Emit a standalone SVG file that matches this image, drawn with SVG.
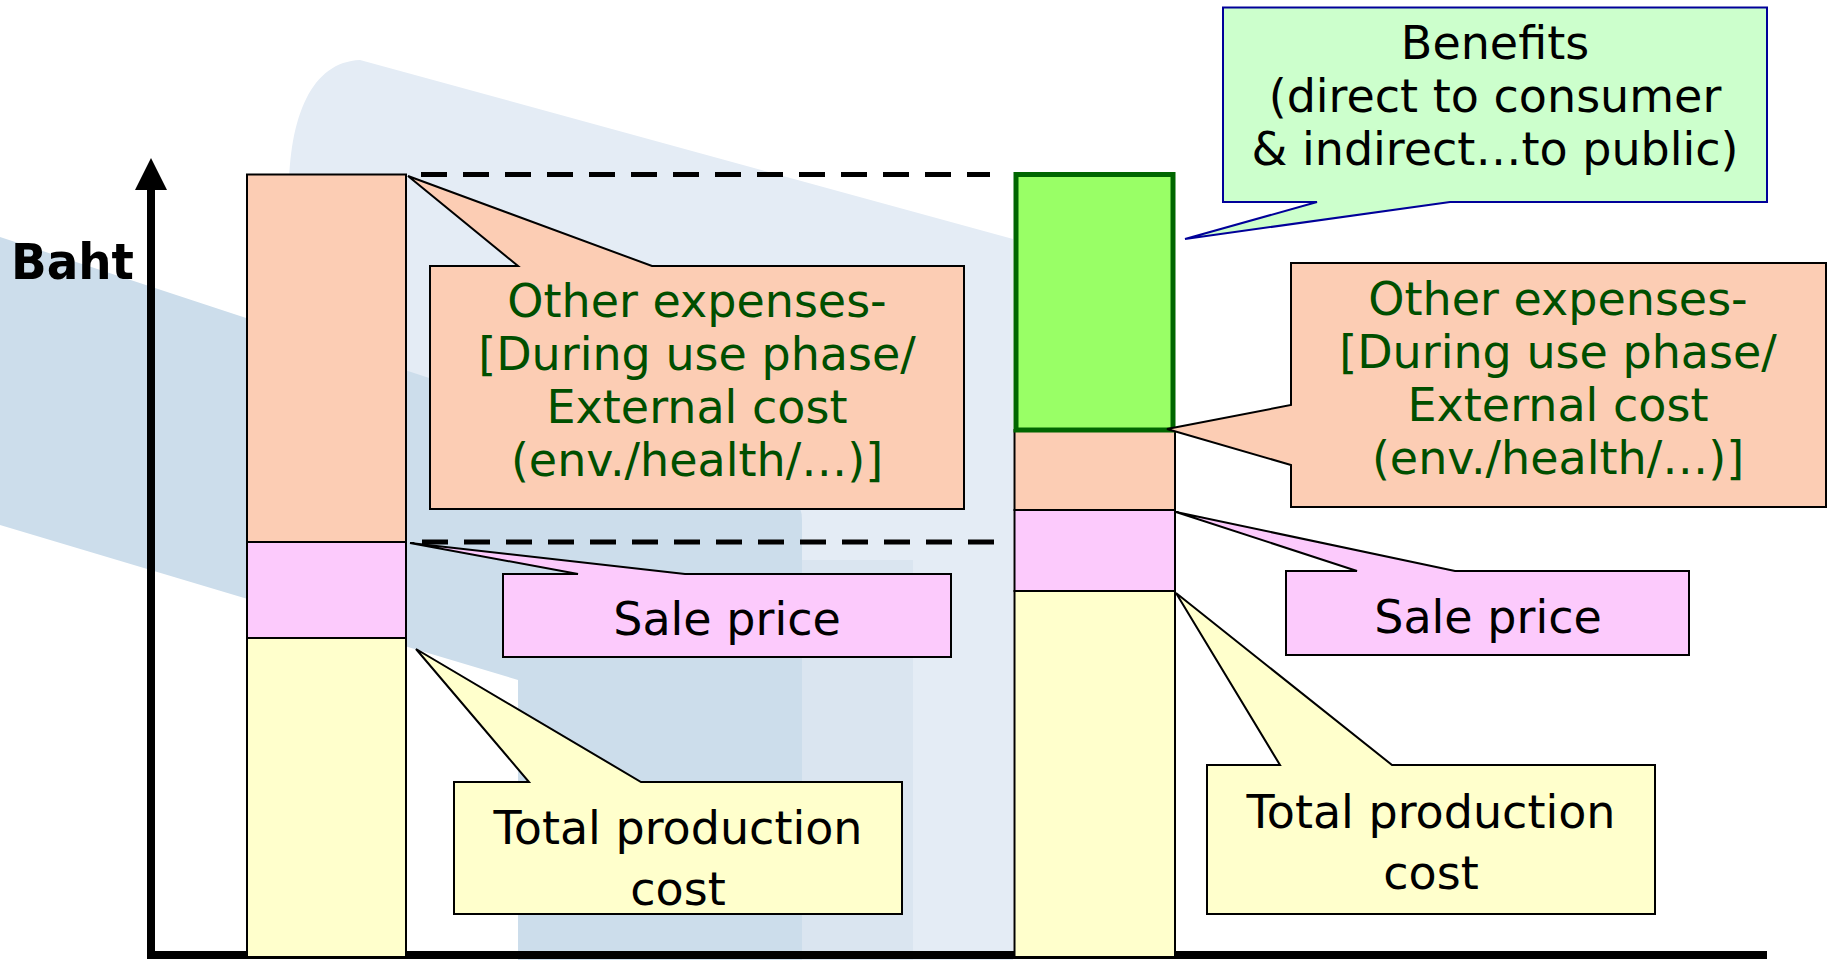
<svg xmlns="http://www.w3.org/2000/svg" width="1831" height="960" viewBox="0 0 1831 960">
  <defs>
    <style>
      .peach { fill: #FCCDB4; stroke: #000; stroke-width: 2; }
      .pink { fill: #FCCAFC; stroke: #000; stroke-width: 2; }
      .yellow { fill: #FFFFCC; stroke: #000; stroke-width: 2; }
      .green { fill: #99FF66; stroke: #006600; stroke-width: 5; }
      .benefit { fill: #CCFFCC; stroke: #000099; stroke-width: 2; }
      .t { font-family: "DejaVu Sans", "Liberation Sans", sans-serif; font-size: 46px; text-anchor: middle; fill: #000; }
      .tg { font-family: "DejaVu Sans", "Liberation Sans", sans-serif; font-size: 46px; text-anchor: middle; fill: #004F00; }
      .dash { stroke: #000; stroke-width: 5; stroke-dasharray: 26 16; fill: none; }
    </style>
  </defs>
  <rect width="1831" height="960" fill="#FFFFFF"/>

  <!-- background watermark -->
  <g id="watermark">
    <path d="M289,205 C287,120 310,62 360,60 L1013,239 L1013,960 L800,960 L800,490 L289,340 Z" fill="#E4ECF5"/>
    <path d="M800,560 L913,560 L913,960 L800,960 Z" fill="#DAE5F0"/>
    <path d="M0,237 L785,495 Q802,500 802,520 L802,960 L518,960 L518,680 L0,525 Z" fill="#CCDDEB"/>
  </g>

  <!-- axes -->
  <g id="axes">
    <line x1="151" y1="185" x2="151" y2="959" stroke="#000" stroke-width="8"/>
    <polygon points="151,158 135,190 167,190" fill="#000"/>
    <line x1="147" y1="955" x2="1767" y2="955" stroke="#000" stroke-width="8"/>
    <text x="11" y="279" font-family="DejaVu Sans, Liberation Sans, sans-serif" font-weight="bold" font-size="50" textLength="123" lengthAdjust="spacingAndGlyphs" fill="#000">Baht</text>
  </g>

  <!-- connectors: dashed reference lines -->
  <g id="connectors">
    <line class="dash" x1="421" y1="174.5" x2="990" y2="174.5"/>
    <line class="dash" x1="422" y1="542" x2="994" y2="542"/>
  </g>

  <!-- left bar -->
  <g id="bar-left">
    <rect class="peach" x="247" y="174.5" width="159" height="367.5"/>
    <rect class="pink" x="247" y="542" width="159" height="96"/>
    <rect class="yellow" x="247" y="638" width="159" height="319"/>
  </g>

  <!-- right bar -->
  <g id="bar-right">
    <rect class="peach" x="1014.5" y="430" width="160.5" height="80"/>
    <rect class="pink" x="1014.5" y="510" width="160.5" height="81"/>
    <rect class="yellow" x="1014.5" y="591" width="160.5" height="366"/>
    <rect class="green" x="1016" y="174.5" width="157" height="255.5"/>
  </g>

  <!-- left callouts -->
  <g id="callout-other-left">
    <path class="peach" d="M430,266 L518,266 L408,176 L652,266 L964,266 L964,509 L430,509 Z"/>
    <text class="tg" x="697" y="317">Other expenses-</text>
    <text class="tg" x="697" y="370">[During use phase/</text>
    <text class="tg" x="697" y="423">External cost</text>
    <text class="tg" x="697" y="476">(env./health/…)]</text>
  </g>
  <g id="callout-sale-left">
    <path class="pink" d="M503,574 L578,574 L410,543 L685,574 L951,574 L951,657 L503,657 Z"/>
    <text class="t" x="727" y="635">Sale price</text>
  </g>
  <g id="callout-total-left">
    <path class="yellow" d="M454,782 L529,782 L416,649 L641,782 L902,782 L902,914 L454,914 Z"/>
    <text class="t" x="678" y="844">Total production</text>
    <text class="t" x="678" y="905">cost</text>
  </g>

  <!-- right callouts -->
  <g id="callout-benefits">
    <path class="benefit" d="M1223,7.5 L1767,7.5 L1767,202 L1450,202 L1185,239 L1317,202 L1223,202 Z"/>
    <text class="t" x="1495" y="59">Benefits</text>
    <text class="t" x="1495" y="112">(direct to consumer</text>
    <text class="t" x="1495" y="165">&amp; indirect…to public)</text>
  </g>
  <g id="callout-other-right">
    <path class="peach" d="M1291,263 L1826,263 L1826,507 L1291,507 L1291,465 L1167,429 L1291,405 Z"/>
    <text class="tg" x="1558" y="315">Other expenses-</text>
    <text class="tg" x="1558" y="368">[During use phase/</text>
    <text class="tg" x="1558" y="421">External cost</text>
    <text class="tg" x="1558" y="474">(env./health/…)]</text>
  </g>
  <g id="callout-sale-right">
    <path class="pink" d="M1286,571 L1357,571 L1176,512 L1455,571 L1689,571 L1689,655 L1286,655 Z"/>
    <text class="t" x="1488" y="633">Sale price</text>
  </g>
  <g id="callout-total-right">
    <path class="yellow" d="M1207,765 L1280,765 L1176,593 L1392,765 L1655,765 L1655,914 L1207,914 Z"/>
    <text class="t" x="1431" y="828">Total production</text>
    <text class="t" x="1431" y="889">cost</text>
  </g>
</svg>
